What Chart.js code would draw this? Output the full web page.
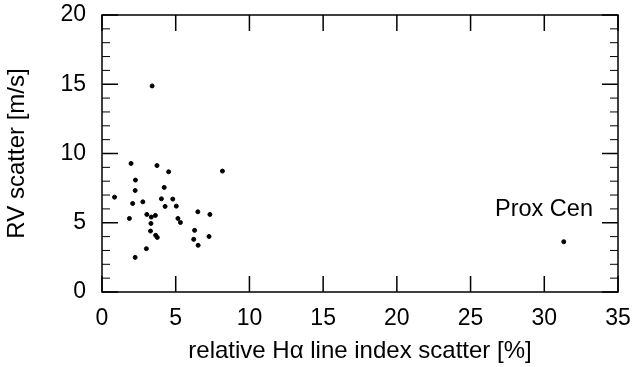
<!DOCTYPE html>
<html>
<head>
<meta charset="utf-8">
<script src="https://cdn.jsdelivr.net/npm/chart.js@4"></script>
<style>
  html, body { margin: 0; padding: 0; background: #fff; }
  #wrap { width: 634px; height: 367px; }
</style>
</head>
<body>
<div id="wrap"><canvas id="scatterCanvas"></canvas></div>
<script>
var hAlphaScatter = [3.40, 1.97, 3.73, 4.52, 8.17, 2.27, 4.22, 2.25, 0.85, 4.03, 4.80, 2.77,
    2.08, 4.28, 5.04, 6.50, 7.32, 3.04, 3.62, 3.34, 1.86, 5.15, 3.32, 5.32, 3.29, 6.28,
    3.64, 3.75, 7.26, 6.22, 6.52, 3.01, 2.25, 31.32];
var rvScatter = [14.88, 9.28, 9.13, 8.68, 8.73, 8.08, 7.55, 7.33, 6.85, 6.73, 6.71, 6.51,
    6.39, 6.18, 6.20, 5.79, 5.60, 5.60, 5.53, 5.41, 5.31, 5.31, 4.95, 5.02, 4.40, 4.45,
    4.09, 3.94, 4.01, 3.80, 3.37, 3.13, 2.50, 3.63];
var xTicks = [0, 5, 10, 15, 20, 25, 30, 35];
var yTicks = [0, 5, 10, 15, 20];
var yMinorTicks = [1, 2, 3, 4, 6, 7, 8, 9, 11, 12, 13, 14, 16, 17, 18, 19];
var labelText = 'Prox Cen';
var labelAt = [29.98, 5.92];

var FONT = '"Liberation Sans", Arial, Helvetica, sans-serif';

var points = hAlphaScatter.map(function (x, i) {
    return { x: x, y: rvScatter[i] };
});

// box frame with inward ticks + the star label
var framePlugin = {
    id: 'frame',
    afterDraw: function (chart) {
        var ctx = chart.ctx;
        var a = chart.chartArea;
        var xs = chart.scales.x, ys = chart.scales.y;
        ctx.save();
        ctx.strokeStyle = '#000';
        ctx.lineWidth = 1.5;
        ctx.strokeRect(a.left, a.top, a.right - a.left, a.bottom - a.top);
        ctx.beginPath();
        xTicks.forEach(function (v) {
            var px = xs.getPixelForValue(v);
            ctx.moveTo(px, a.bottom); ctx.lineTo(px, a.bottom - 16);
            ctx.moveTo(px, a.top); ctx.lineTo(px, a.top + 16);
        });
        yTicks.forEach(function (v) {
            var py = ys.getPixelForValue(v);
            ctx.moveTo(a.left, py); ctx.lineTo(a.left + 16, py);
            ctx.moveTo(a.right, py); ctx.lineTo(a.right - 16, py);
        });
        ctx.stroke();
        ctx.lineWidth = 1;
        ctx.beginPath();
        yMinorTicks.forEach(function (v) {
            var py = ys.getPixelForValue(v);
            ctx.moveTo(a.left, py); ctx.lineTo(a.left + 8, py);
            ctx.moveTo(a.right, py); ctx.lineTo(a.right - 8, py);
        });
        ctx.stroke();

        ctx.fillStyle = '#000';
        ctx.font = '23.5px ' + FONT;
        ctx.textAlign = 'center';
        ctx.textBaseline = 'middle';
        ctx.fillText(labelText, xs.getPixelForValue(labelAt[0]), ys.getPixelForValue(labelAt[1]));
        ctx.restore();
    }
};

window.onload = function () {
    var ctx = document.getElementById('scatterCanvas').getContext('2d');
    window.myScatter = new Chart(ctx, {
        type: 'scatter',
        data: {
            datasets: [{
                data: points,
                backgroundColor: '#000',
                borderColor: '#000',
                pointRadius: 2,
                pointHoverRadius: 2
            }]
        },
        options: {
            responsive: true,
            maintainAspectRatio: false,
            animation: false,
            layout: { padding: { top: 15, right: 16, left: 0, bottom: 0 } },
            plugins: {
                legend: { display: false },
                tooltip: { enabled: false }
            },
            scales: {
                x: {
                    type: 'linear',
                    min: 0,
                    max: 35,
                    afterBuildTicks: function (axis) {
                        axis.ticks = xTicks.map(function (v) { return { value: v }; });
                    },
                    afterFit: function (axis) {
                        axis.height = 75;
                        axis.paddingLeft = 0;
                        axis.paddingRight = 0;
                    },
                    grid: { display: false, drawTicks: false },
                    border: { display: false },
                    ticks: {
                        color: '#000',
                        padding: 13,
                        maxRotation: 0,
                        font: { family: FONT, size: 23 }
                    },
                    title: {
                        display: true,
                        text: 'relative Hα line index scatter [%]',
                        color: '#000',
                        padding: { top: 1, bottom: 1 },
                        font: { family: FONT, size: 24 }
                    }
                },
                y: {
                    type: 'linear',
                    min: 0,
                    max: 20,
                    afterBuildTicks: function (axis) {
                        axis.ticks = yTicks.map(function (v) { return { value: v }; });
                    },
                    afterFit: function (axis) {
                        axis.width = 102;
                        axis.paddingTop = 0;
                        axis.paddingBottom = 0;
                    },
                    grid: { display: false, drawTicks: false },
                    border: { display: false },
                    ticks: {
                        color: '#000',
                        padding: 16,
                        font: { family: FONT, size: 23 }
                    },
                    title: {
                        display: true,
                        text: 'RV scatter [m/s]',
                        color: '#000',
                        padding: { top: 3, bottom: 3 },
                        font: { family: FONT, size: 24 }
                    }
                }
            }
        },
        plugins: [framePlugin]
    });
};
</script>
</body>
</html>
